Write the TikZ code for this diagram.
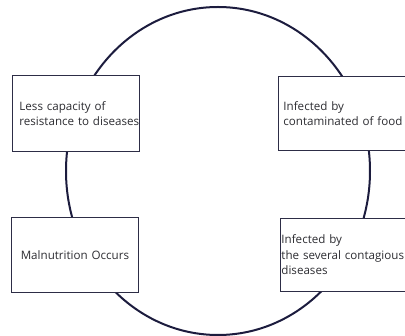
\documentclass[tikz,border=0pt]{standalone}
\usepackage{xcolor}
\usepackage{tikz}
\usepackage{fontspec}
\setmainfont{Open Sans}
\usetikzlibrary{positioning}
\definecolor{ringcolor}{RGB}{28,28,62}
\definecolor{boxcolor}{RGB}{45,45,70}
\definecolor{labelcolor}{RGB}{45,45,50}

\begin{document}
\begin{tikzpicture}[
    x=1pt, y=-1pt,
    stage/.style={draw=boxcolor, line width=0.9pt, fill=white, anchor=north west, inner ysep=0pt, minimum height=75pt, font=\fontsize{11.6}{15.5}\selectfont, text=labelcolor, align=left},
    ring/.style={draw=ringcolor, line width=2pt}
]
    \useasboundingbox (0,0) rectangle (405,336);
    % Cycle ring
    \draw[ring] (218,171) ellipse [x radius=152, y radius=164];

    % Stages
    \node[stage, inner xsep=7pt, text width=113pt, minimum height=76pt] (resist) at (12,75) {Less capacity of\\\mbox{resistance to diseases}};
    \node[stage, inner xsep=5pt, text width=135pt, minimum height=74pt] (food) at (278,76) {Infected by\\contaminated of food};
    \node[stage, inner xsep=1pt, text width=140pt, minimum height=73pt] (contag) at (280,218) {Infected by\\the several contagious\\diseases};
    \node[stage, inner xsep=7pt, text width=113pt, align=center] (malnut) at (11,217) {Malnutrition Occurs};
\end{tikzpicture}
\end{document}
